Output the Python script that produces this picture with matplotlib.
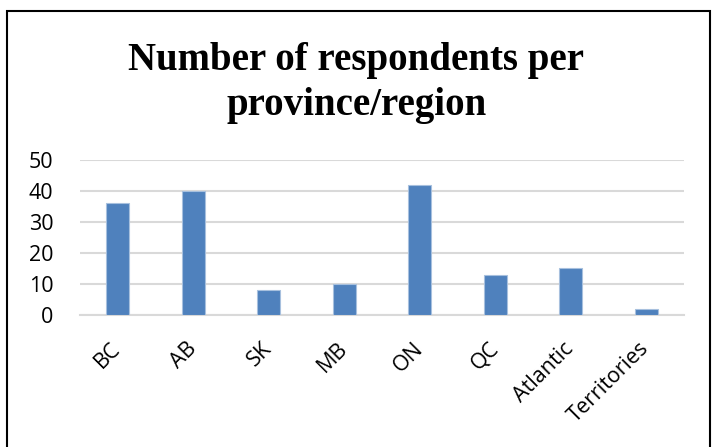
import matplotlib.pyplot as plt
from matplotlib.patches import Rectangle

# Respondents per province/region
regions = ['BC', 'AB', 'SK', 'MB', 'ON', 'QC', 'Atlantic', 'Territories']
respondents = [36, 40, 8, 10, 42, 13, 15, 2]
y_ticks = [0, 10, 20, 30, 40, 50]

fig = plt.figure(figsize=(7.13, 4.47), dpi=100)
ax = fig.add_axes([0.1122, 0.2953, 0.8471, 0.3468])

ax.bar(range(len(regions)), respondents, width=0.31, color='#4F81BD',
       edgecolor='#A7C0DE', linewidth=0.8, zorder=3)

ax.set_xlim(-0.5, len(regions) - 0.5)
ax.set_ylim(0, 50)
ax.set_yticks(y_ticks)
ax.set_xticks(range(len(regions)))
ax.set_xticklabels(regions, rotation=45, ha='right', va='center',
                   rotation_mode='anchor', fontsize=15.5, family='Open Sans')
for lbl in ax.get_yticklabels():
    lbl.set_family('Open Sans')
    lbl.set_fontsize(15.5)

ax.tick_params(axis='x', length=0, pad=22)
ax.tick_params(axis='y', length=0, pad=19)
ax.yaxis.grid(True, color='#D9D9D9', linewidth=1.5, zorder=0)
for side in ['top', 'right', 'left']:
    ax.spines[side].set_visible(False)
ax.spines['bottom'].set_color('#D9D9D9')
ax.spines['bottom'].set_linewidth(1.5)

fig.text(0.5, 1 - 83 / 447, 'Number of respondents per\nprovince/region', ha='center',
         va='center', fontsize=28, fontweight='bold', family='Liberation Serif',
         linespacing=1.32)

# chart frame
fig.patches.append(Rectangle((7 / 713, -0.05), 703 / 713, 1.05 - 11 / 447,
                             transform=fig.transFigure, fill=False,
                             edgecolor='black', linewidth=1.5))

plt.savefig('out.png', dpi=100)
